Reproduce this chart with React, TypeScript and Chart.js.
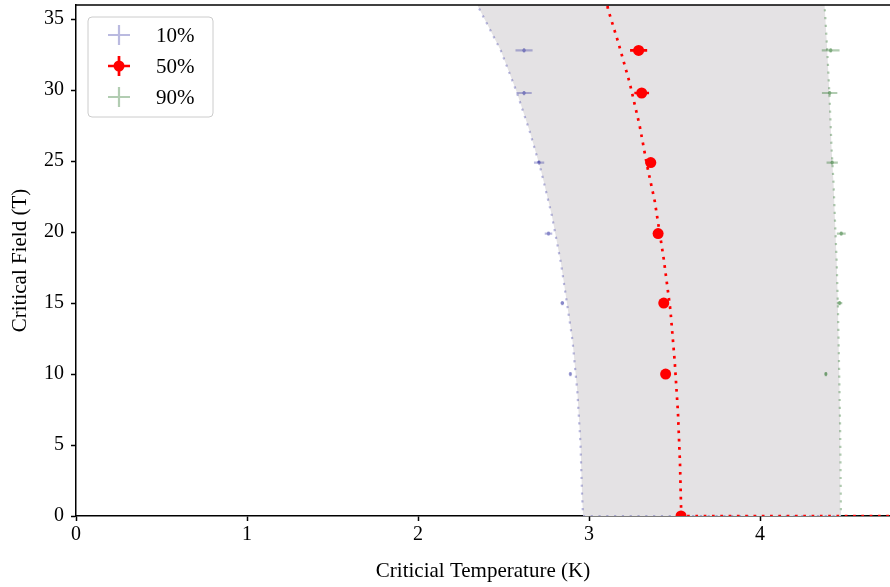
import React, { useEffect, useRef } from "react";
import { Chart, registerables } from "chart.js";

Chart.register(...registerables);

// ---------- data ----------
const xTicks = [0, 1, 2, 3, 4];
const yTicks = [0, 5, 10, 15, 20, 25, 30, 35];
const xMax = 4.76;
const yMax = 36;

const legendLabels = ["10%", "50%", "90%"];

// measured points (field in T)
const fieldLevels = [32.8, 29.8, 24.9, 19.9, 15.0, 10.0];
const t10 = [2.62, 2.62, 2.708, 2.763, 2.844, 2.891];
const t10err = [0.05, 0.045, 0.03, 0.022, 0.01, 0.006];
const t90 = [4.413, 4.407, 4.422, 4.475, 4.465, 4.385];
const t90err = [0.052, 0.045, 0.033, 0.026, 0.016, 0.005];
const field50 = [32.8, 29.8, 24.9, 19.9, 15.0, 10.0, 0];
const t50 = [3.29, 3.308, 3.361, 3.404, 3.437, 3.448, 3.538];
const t50err = [0.05, 0.043, 0.031, 0.02, 0.01, 0.004, 0.0];
const fieldErr = 0.15;

// fitted curves (T, H)
const curve10T = [2.33, 2.351, 2.484, 2.576, 2.653, 2.72, 2.782, 2.836, 2.903, 2.932, 2.95, 2.959, 2.965];
const curve10H = [36.8, 35.9, 32.8, 29.9, 27.1, 24.3, 21.2, 17.8, 12.4, 8.7, 5.1, 1.6, 0];
const curve50T = [3.1, 3.111, 3.17, 3.238, 3.296, 3.341, 3.384, 3.437, 3.476, 3.501, 3.52, 3.532, 3.538, 3.54];
const curve50H = [36.5, 35.7, 33.4, 30.5, 27.5, 24.6, 22.2, 18.1, 14.5, 10.9, 7.3, 3.7, 0.7, 0];
const curve90T = [4.374, 4.378, 4.393, 4.407, 4.418, 4.43, 4.44, 4.448, 4.455, 4.463, 4.469, 4.473, 4.474];
const curve90H = [36.8, 35.9, 32.8, 29.4, 26.0, 23.4, 20.3, 18.0, 15.0, 10.1, 5.8, 0.4, 0];

// ---------- styles ----------
const BLUE = "rgba(0,0,140,0.27)";
const RED = "rgb(255,0,0)";
const GREEN = "rgba(0,90,0,0.3)";
const SHADE = "rgb(228,226,228)";
const FONT = "'Liberation Serif', 'DejaVu Serif', serif";

const pts = (xs: number[], ys: number[]) => xs.map((x, i) => ({ x, y: ys[i] }));
const withTail = (xs: number[], ys: number[]) => [...pts(xs, ys), { x: xMax + 0.1, y: 0 }];

export default function App() {
  const ref = useRef<HTMLCanvasElement | null>(null);
  useEffect(() => {
    document.body.style.margin = "0";
    const ctx = ref.current!.getContext("2d")!;

    const shape = [...pts(curve10T, curve10H), ...pts(curve90T, curve90H).reverse()];

    const datasets: any[] = [
      {
        data: shape, showLine: true, fill: "shape", backgroundColor: SHADE,
        borderWidth: 0, pointRadius: 0, order: 20,
      },
      {
        data: withTail(curve10T, curve10H), showLine: true, borderColor: BLUE, borderWidth: 2.2,
        borderDash: [2.2, 5.6], pointRadius: 0, fill: false, order: 19,
      },
      {
        data: withTail(curve90T, curve90H), showLine: true, borderColor: GREEN, borderWidth: 2.2,
        borderDash: [2.2, 5.6], pointRadius: 0, fill: false, order: 18,
      },
      {
        data: pts(t10, fieldLevels), showLine: false, pointRadius: 1.8, pointBackgroundColor: BLUE,
        pointBorderWidth: 0, order: 16, _err: { xe: t10err, color: BLUE, width: 2.2 },
      },
      {
        data: pts(t90, fieldLevels), showLine: false, pointRadius: 1.8, pointBackgroundColor: GREEN,
        pointBorderWidth: 0, order: 15, _err: { xe: t90err, color: GREEN, width: 2.2 },
      },
      {
        data: withTail(curve50T, curve50H), showLine: true, borderColor: RED, borderWidth: 2.7,
        borderDash: [2.7, 5.6], pointRadius: 0, fill: false, order: 14,
      },
      {
        data: pts(t50, field50), showLine: false, pointRadius: 5.5, pointBackgroundColor: RED,
        pointBorderWidth: 0, order: 12, _err: { xe: t50err, color: RED, width: 2.7 },
      },
    ];

    const errorPlugin = {
      id: "errbars",
      beforeDatasetDraw(chart: any, args: any) {
        const ds = chart.data.datasets[args.index];
        if (!ds._err) return;
        const xs = chart.scales.x, ys = chart.scales.y;
        const c = chart.ctx;
        c.save();
        c.beginPath();
        c.rect(chart.chartArea.left, chart.chartArea.top, chart.chartArea.width, chart.chartArea.height);
        c.clip();
        c.strokeStyle = ds._err.color;
        c.lineWidth = ds._err.width;
        ds.data.forEach((p: any, i: number) => {
          const e = ds._err.xe[i];
          const py = ys.getPixelForValue(p.y);
          c.beginPath();
          c.moveTo(xs.getPixelForValue(p.x - e), py);
          c.lineTo(xs.getPixelForValue(p.x + e), py);
          c.moveTo(xs.getPixelForValue(p.x), ys.getPixelForValue(p.y - fieldErr));
          c.lineTo(xs.getPixelForValue(p.x), ys.getPixelForValue(p.y + fieldErr));
          c.stroke();
        });
        c.restore();
      },
    };

    const framePlugin = {
      id: "frame",
      afterDraw(chart: any) {
        const c = chart.ctx;
        const a = chart.chartArea;
        c.save();
        c.strokeStyle = "#000";
        c.lineWidth = 1.5;
        c.beginPath();
        c.moveTo(a.left, a.top);
        c.lineTo(a.right, a.top);
        c.stroke();
        // legend
        const bx = 88, by = 17, bw = 125, bh = 100, r = 4;
        c.fillStyle = "rgba(255,255,255,0.85)";
        c.strokeStyle = "#cccccc";
        c.lineWidth = 1;
        c.beginPath();
        c.moveTo(bx + r, by);
        c.arcTo(bx + bw, by, bx + bw, by + bh, r);
        c.arcTo(bx + bw, by + bh, bx, by + bh, r);
        c.arcTo(bx, by + bh, bx, by, r);
        c.arcTo(bx, by, bx + bw, by, r);
        c.closePath();
        c.fill();
        c.stroke();
        const colors = [BLUE, RED, GREEN];
        const rows = [35, 66, 97];
        rows.forEach((y, i) => {
          const cx = 119;
          c.strokeStyle = colors[i];
          c.lineWidth = i === 1 ? 2.7 : 2.2;
          c.beginPath();
          c.moveTo(cx - 11, y);
          c.lineTo(cx + 11, y);
          c.moveTo(cx, y - 10);
          c.lineTo(cx, y + 10);
          c.stroke();
          if (i === 1) {
            c.fillStyle = RED;
            c.beginPath();
            c.arc(cx, y, 5.5, 0, Math.PI * 2);
            c.fill();
          }
          c.fillStyle = "#000";
          c.font = `21px ${FONT}`;
          c.textBaseline = "middle";
          c.textAlign = "left";
          c.fillText(legendLabels[i], 156, y + 1);
        });
        c.restore();
      },
    };

    const chart = new Chart(ctx, {
      type: "scatter",
      data: { datasets },
      plugins: [errorPlugin, framePlugin],
      options: {
        responsive: false,
        animation: false,
        layout: { autoPadding: false, padding: { top: 5, right: 0, left: 0, bottom: 0 } },
        plugins: { legend: { display: false }, tooltip: { enabled: false } },
        scales: {
          x: {
            type: "linear", min: 0, max: xMax,
            afterBuildTicks: (s: any) => { s.ticks = xTicks.map((v) => ({ value: v })); },
            afterFit: (s: any) => { s.height = 71; s.paddingLeft = 0; s.paddingRight = 0; },
            grid: { display: true, drawOnChartArea: false, drawTicks: true, tickLength: 5, color: "#000", tickWidth: 1.5 },
            border: { display: true, color: "#000", width: 1.5 },
            ticks: { color: "#000", font: { family: FONT, size: 20 }, padding: 2, maxRotation: 0 },
            title: { display: true, text: "Criticial Temperature (K)", color: "#000", font: { family: FONT, size: 21 }, padding: { top: 0, bottom: 3 } },
          },
          y: {
            type: "linear", min: 0, max: yMax,
            afterBuildTicks: (s: any) => { s.ticks = yTicks.map((v) => ({ value: v })); },
            afterFit: (s: any) => { s.width = 76; s.paddingTop = 0; s.paddingBottom = 0; },
            grid: { display: true, drawOnChartArea: false, drawTicks: true, tickLength: 5, color: "#000", tickWidth: 1.5 },
            border: { display: true, color: "#000", width: 1.5 },
            ticks: { color: "#000", font: { family: FONT, size: 20 }, padding: 7 },
            title: { display: true, text: "Critical Field (T)", color: "#000", font: { family: FONT, size: 21 }, padding: { top: 8, bottom: 0 } },
          },
        },
      } as any,
    });
    return () => chart.destroy();
  }, []);
  return (
    <div style={{ position: "absolute", left: 0, top: 0, width: 890, height: 587 }}>
      <canvas ref={ref} width={890} height={587} />
    </div>
  );
}
